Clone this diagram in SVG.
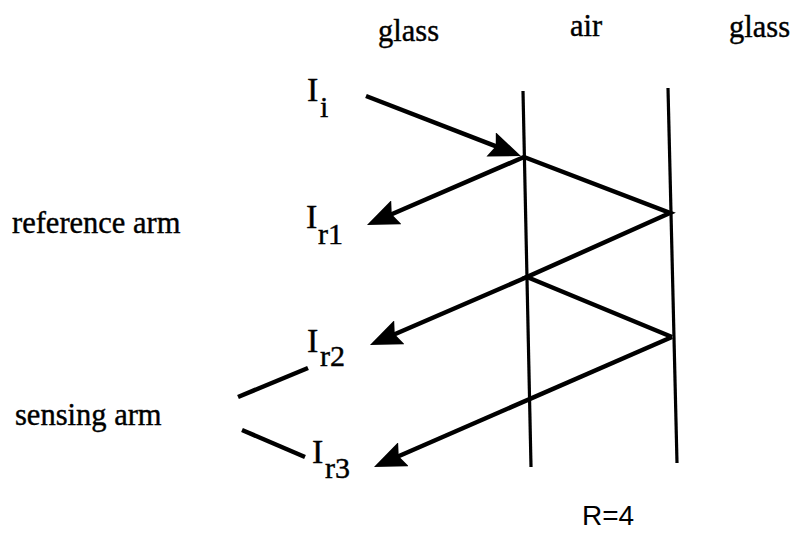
<svg xmlns="http://www.w3.org/2000/svg" width="793" height="534" viewBox="0 0 793 534">
<style>
.t{font-family:"Liberation Serif","Times New Roman",serif;font-size:30.5px;fill:#000;stroke:#000;stroke-width:0.4}
.I{font-family:"Liberation Serif","Times New Roman",serif;font-size:34px;fill:#000;stroke:#000;stroke-width:0.4}
.s{font-size:30px}
.r{font-family:"Liberation Sans",Arial,sans-serif;font-size:28px;fill:#000}
.ln{stroke:#000;stroke-width:4.5;fill:none}
.wall{stroke:#000;stroke-width:3.2;fill:none}
</style>
<defs>
<marker id="ah" viewBox="0 0 32 26" refX="24" refY="13" markerWidth="32" markerHeight="26" markerUnits="userSpaceOnUse" orient="auto">
<path d="M0,0 L32,13 L0,26 L5,13 Z" fill="#000"/>
</marker>
</defs>
<rect width="793" height="534" fill="#fff"/>
<g id="labels">
<text class="t" x="378" y="41">glass</text>
<text class="t" x="570" y="36">air</text>
<text class="t" x="729" y="37">glass</text>
<text class="t" x="12" y="233">reference arm</text>
<text class="t" x="15" y="425">sensing arm</text>
<text class="r" x="582" y="525">R=4</text>
</g>
<g id="walls">
<line class="wall" x1="523" y1="91" x2="531" y2="467"/>
<line class="wall" x1="668" y1="88" x2="677" y2="463"/>
</g>
<g id="node-Ii"><text class="I" x="307" y="101">I<tspan class="s" x="320" y="117">i</tspan></text></g>
<g id="node-Ir1"><text class="I" x="306" y="228">I<tspan class="s" x="318" y="244">r1</tspan></text></g>
<g id="node-Ir2"><text class="I" x="307" y="352">I<tspan class="s" x="320" y="366">r2</tspan></text></g>
<g id="node-Ir3"><text class="I" x="312" y="463">I<tspan class="s" x="325" y="478">r3</tspan></text></g>
<g id="connectors">
<line class="ln" x1="366" y1="96" x2="513.5" y2="153.1" marker-end="url(#ah)"/>
<polyline class="ln" points="524,157 670,213 527,277 672,337"/>
<line class="ln" x1="524" y1="157" x2="374.3" y2="221.8" marker-end="url(#ah)"/>
<line class="ln" x1="527" y1="277" x2="377.3" y2="341.8" marker-end="url(#ah)"/>
<line class="ln" x1="672" y1="337" x2="381.3" y2="463.8" marker-end="url(#ah)"/>
<line class="ln" x1="238" y1="397" x2="308" y2="368"/>
<line class="ln" x1="242" y1="430" x2="305" y2="457"/>
</g>
</svg>
